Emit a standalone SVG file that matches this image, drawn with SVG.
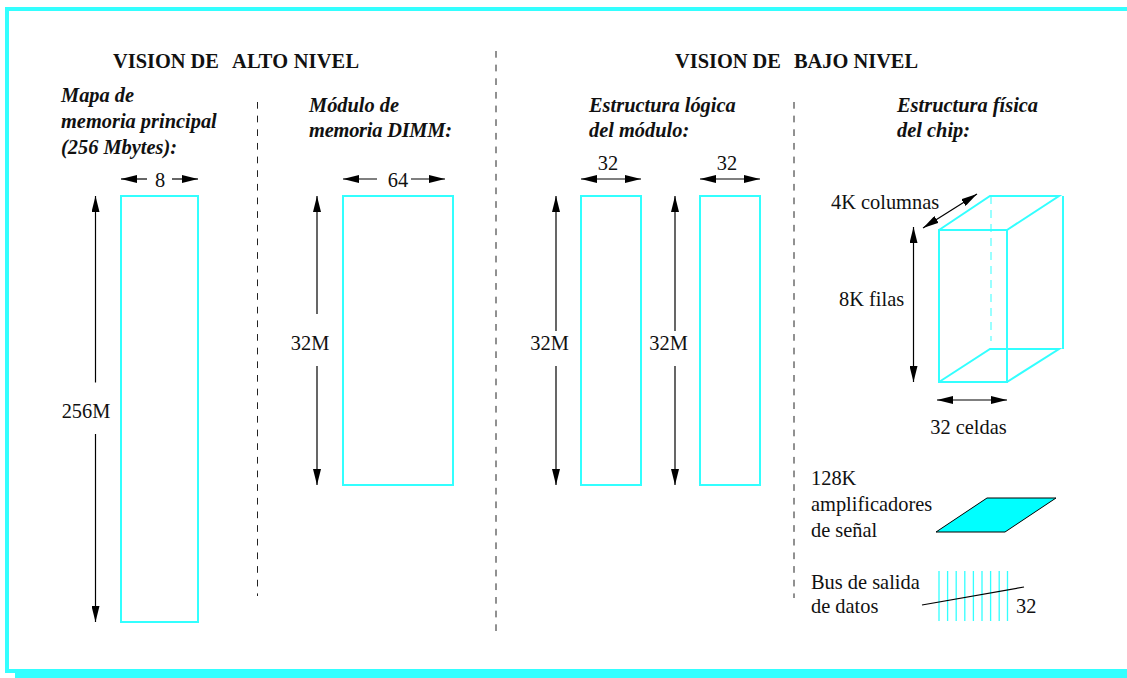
<svg xmlns="http://www.w3.org/2000/svg" width="1127" height="678" viewBox="0 0 1127 678">
<defs>
<marker id="ah" viewBox="0 0 16 8" refX="16" refY="4" markerWidth="16" markerHeight="8" markerUnits="userSpaceOnUse" orient="auto-start-reverse"><path d="M0 0L16 4L0 8Z" fill="#000"/></marker>
</defs>
<style>
text{font-family:"Liberation Serif","Times New Roman",serif;font-size:20.4px;fill:#111}
.t{font-weight:bold}
.i{font-weight:bold;font-style:italic}
.c{fill:none;stroke:#33ffff;stroke-width:2}
.a{stroke:#000;stroke-width:1.2;fill:none;marker-start:url(#ah);marker-end:url(#ah)}
.s{stroke:#000;stroke-width:1.2;fill:none;marker-end:url(#ah)}
.d{stroke:#222;stroke-width:1;stroke-dasharray:6.700 6.950;fill:none}
.m{text-anchor:middle}
</style>
<rect width="1127" height="678" fill="#fff"/>
<g id="frame" fill="#33ffff">
<rect x="5" y="7" width="1122" height="4"/>
<rect x="5" y="7" width="4" height="666"/>
<rect x="5" y="669" width="1122" height="4"/>
<rect x="15" y="669" width="1112" height="9"/>
</g>
<g id="titles">
<text class="t" x="113" y="68">VISION DE</text><text class="t" x="232" y="68" textLength="127">ALTO NIVEL</text>
<text class="t" x="675" y="68">VISION DE</text><text class="t" x="794" y="68">BAJO NIVEL</text>
</g>
<g id="map">
<text class="i" x="61" y="102">Mapa de</text>
<text class="i" x="61" y="128">memoria principal</text>
<text class="i" x="61" y="154">(256 Mbytes):</text>
<rect class="c" x="121" y="196" width="77" height="426"/>
<text class="m" x="160" y="187">8</text>
<text class="m" x="86" y="418">256M</text>
</g>
<g id="dimm">
<text class="i" x="309" y="111.500">Módulo de</text>
<text class="i" x="309" y="136.500" textLength="143">memoria DIMM:</text>
<rect class="c" x="343" y="196" width="110" height="289"/>
<text class="m" x="398" y="187">64</text>
<text class="m" x="310" y="350">32M</text>
</g>
<g id="logic">
<text class="i" x="589" y="111.500">Estructura lógica</text>
<text class="i" x="589" y="136.500">del módulo:</text>
<rect class="c" x="581" y="196" width="60" height="289"/>
<rect class="c" x="700" y="196" width="60" height="289"/>
<text class="m" x="608" y="170">32</text>
<text class="m" x="727" y="170">32</text>
<text class="m" x="549.500" y="350">32M</text>
<text class="m" x="668.500" y="350">32M</text>
</g>
<g id="chip">
<text class="i" x="897" y="111.500">Estructura física</text>
<text class="i" x="897" y="136.500">del chip:</text>
<path class="c" d="M939 230H1007V382H939ZM939 230L990 196H1059L1007 230M939 382L990 349H1059L1007 382M1063 196V349"/>
<path d="M991 196V341" fill="none" stroke="#33ffff" stroke-width="1" stroke-dasharray="8 6"/>
<text x="831" y="209">4K columnas</text>
<text x="839" y="306">8K filas</text>
<text class="m" x="968.500" y="434">32 celdas</text>
</g>
<g id="amp">
<text x="811" y="485">128K</text>
<text x="811" y="511">amplificadores</text>
<text x="811" y="537">de señal</text>
<path d="M936 532L987 498H1056L1005 532Z" fill="#00ffff" stroke="#000" stroke-width="1"/>
</g>
<g id="bus">
<text x="811" y="588.500">Bus de salida</text>
<text x="811" y="613">de datos</text>
<path d="M939 571V621M947.600 571V621M956.200 571V621M964.800 571V621M973.400 571V621M982 571V621M990.600 571V621M999.200 571V621M1007.500 571V621" stroke="#33ffff" stroke-width="1.300" fill="none"/>
<path d="M922 605L1024 587" stroke="#000" stroke-width="1.200" fill="none"/>
<text x="1016" y="613">32</text>
</g>
<g id="connectors">
<path class="d" d="M257.500 102V596"/>
<path class="d" d="M496 51V631"/>
<path class="d" d="M794 102V598"/>
<path class="s" d="M147 179H121"/><path class="s" d="M172 179H198"/>
<path class="s" d="M95.500 382.500V196"/><path class="s" d="M95.500 434V622"/>
<path class="s" d="M377 179H343"/><path class="s" d="M411 179H445"/>
<path class="s" d="M317 314V196"/><path class="s" d="M317 366V485"/>
<path class="a" d="M581 179H641"/><path class="a" d="M700 179H760"/>
<path class="s" d="M556 331V196"/><path class="s" d="M556 366V485"/>
<path class="s" d="M675 331V196"/><path class="s" d="M675 366V485"/>
<path class="a" d="M923 228L977 194"/>
<path class="a" d="M913.500 227V382"/>
<path class="a" d="M937 400H1007"/>
</g>
</svg>
